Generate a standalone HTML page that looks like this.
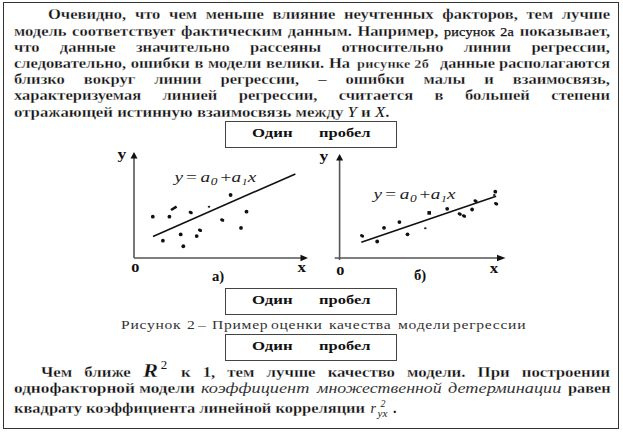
<!DOCTYPE html>
<html><head><meta charset="utf-8">
<style>
html,body{margin:0;padding:0;background:#fff;}
body{width:623px;height:432px;position:relative;overflow:hidden;font-family:"Liberation Serif",serif;color:#111;}
.frame{position:absolute;left:2.5px;top:2px;width:614.5px;height:424.5px;border:1.5px solid #333;}
.ln{position:absolute;font-weight:bold;-webkit-text-stroke:0.3px rgba(255,255,255,0.8);font-size:14px;line-height:16px;height:16px;transform-origin:0 0;}
.sm{font-weight:normal;font-size:12px;letter-spacing:0.2px;-webkit-text-stroke:0.25px #111;}
.smb{font-weight:bold;font-size:12px;letter-spacing:0.25px;}
.it{font-weight:normal;font-style:italic;-webkit-text-stroke:0;}
.box{position:absolute;left:225px;width:169.5px;height:24.5px;border:1.2px solid #444;}
.R{font-style:italic;font-size:18.5px;line-height:0;display:inline-block;transform:scaleX(1.08);transform-origin:0 0;margin-right:1px;}
.s2{font-weight:normal;font-size:11.5px;line-height:0;vertical-align:0;position:relative;top:-7.5px;left:2.5px;margin-right:4px;-webkit-text-stroke:0;}
.ital{-webkit-text-stroke:0;font-style:italic;font-size:15.5px;color:#333;display:inline-block;transform-origin:0 0;}
svg{position:absolute;left:0;top:0;}
</style></head><body>
<div class="frame"></div>
<div class="ln" style="left:48px;top:7.38px;width:476.27px;transform:scaleX(1.18);text-align:justify;text-align-last:justify;">Очевидно, что чем меньше влияние неучтенных факторов, тем лучше</div>
<div class="ln" style="left:14px;top:23.57px;width:505.08px;transform:scaleX(1.18);text-align:justify;text-align-last:justify;">модель соответствует фактическим данным. Например, <span class="sm">рисунок 2а</span> показывает,</div>
<div class="ln" style="left:14px;top:39.77px;width:505.08px;transform:scaleX(1.18);text-align:justify;text-align-last:justify;">что данные значительно рассеяны относительно линии регрессии,</div>
<div class="ln" style="left:14px;top:55.97px;width:284.75px;transform:scaleX(1.18);text-align:justify;text-align-last:justify;">следовательно, ошибки в модели велики. На</div>
<div class="ln" style="left:357px;top:55.97px;white-space:nowrap;transform:scaleX(1.18);"><span class="smb">рисунке 2б</span></div>
<div class="ln" style="left:440px;top:55.97px;white-space:nowrap;transform:scaleX(1.162);">данные располагаются</div>
<div class="ln" style="left:14px;top:72.18px;width:505.08px;transform:scaleX(1.18);text-align:justify;text-align-last:justify;">близко вокруг линии регрессии, – ошибки малы и взаимосвязь,</div>
<div class="ln" style="left:14px;top:88.38px;width:505.08px;transform:scaleX(1.18);text-align:justify;text-align-last:justify;">характеризуемая линией регрессии, считается в большей степени</div>
<div class="ln" style="left:14px;top:104.57px;white-space:nowrap;transform:scaleX(1.198);">отражающей истинную взаимосвязь между <i class="it">Y</i> и <i class="it">X</i>.</div>
<div class="box" style="top:121px"></div><div class="ln" style="left:251.6px;top:124.94px;white-space:nowrap;transform:scaleX(1.24);font-size:13.5px;-webkit-text-stroke:0;">Один</div>
<div class="ln" style="left:319px;top:124.94px;white-space:nowrap;transform:scaleX(1.22);font-size:13.5px;-webkit-text-stroke:0;">пробел</div>
<div class="box" style="top:288.3px"></div><div class="ln" style="left:251.6px;top:292.24px;white-space:nowrap;transform:scaleX(1.24);font-size:13.5px;-webkit-text-stroke:0;">Один</div>
<div class="ln" style="left:319px;top:292.24px;white-space:nowrap;transform:scaleX(1.22);font-size:13.5px;-webkit-text-stroke:0;">пробел</div>
<div class="box" style="top:334px"></div><div class="ln" style="left:251.6px;top:337.94px;white-space:nowrap;transform:scaleX(1.24);font-size:13.5px;-webkit-text-stroke:0;">Один</div>
<div class="ln" style="left:319px;top:337.94px;white-space:nowrap;transform:scaleX(1.22);font-size:13.5px;-webkit-text-stroke:0;">пробел</div>
<div class="ln" style="left:121.4px;top:316.91px;white-space:nowrap;transform:scaleX(1.2);font-weight:normal;font-size:13px;letter-spacing:0.6px;color:#333;-webkit-text-stroke:0;">Рисунок</div>
<div class="ln" style="left:187.4px;top:316.91px;white-space:nowrap;transform:scaleX(1.2);font-weight:normal;font-size:13px;letter-spacing:0.6px;color:#333;-webkit-text-stroke:0;">2</div>
<div class="ln" style="left:198px;top:316.91px;white-space:nowrap;transform:scaleX(1.2);font-weight:normal;font-size:13px;letter-spacing:0.6px;color:#333;-webkit-text-stroke:0;">–</div>
<div class="ln" style="left:212.2px;top:316.91px;white-space:nowrap;transform:scaleX(1.2);font-weight:normal;font-size:13px;letter-spacing:0.6px;color:#333;-webkit-text-stroke:0;">Пример</div>
<div class="ln" style="left:270.5px;top:316.91px;white-space:nowrap;transform:scaleX(1.2);font-weight:normal;font-size:13px;letter-spacing:0.6px;color:#333;-webkit-text-stroke:0;">оценки</div>
<div class="ln" style="left:328.8px;top:316.91px;white-space:nowrap;transform:scaleX(1.2);font-weight:normal;font-size:13px;letter-spacing:0.6px;color:#333;-webkit-text-stroke:0;">качества</div>
<div class="ln" style="left:397.7px;top:316.91px;white-space:nowrap;transform:scaleX(1.2);font-weight:normal;font-size:13px;letter-spacing:0.6px;color:#333;-webkit-text-stroke:0;">модели</div>
<div class="ln" style="left:452.5px;top:316.91px;white-space:nowrap;transform:scaleX(1.2);font-weight:normal;font-size:13px;letter-spacing:0.6px;color:#333;-webkit-text-stroke:0;">регрессии</div>
<div class="ln" style="left:41px;top:363.94px;width:508.04px;transform:scaleX(1.12);text-align:justify;text-align-last:justify;font-size:15px;">Чем ближе <span class="R">R</span><sup class="s2">2</sup> к 1, тем лучше качество модели. При построении</div>
<div class="ln" style="left:14.3px;top:380.24px;white-space:nowrap;transform:scaleX(1.15);font-size:15px;">однофакторной модели</div>
<div class="ln" style="left:201.4px;top:380.24px;white-space:nowrap;transform:scaleX(1.18);font-weight:normal;"><span class="ital">коэффициент</span></div>
<div class="ln" style="left:316.7px;top:380.24px;white-space:nowrap;transform:scaleX(1.15);font-weight:normal;"><span class="ital">множественной</span></div>
<div class="ln" style="left:448.2px;top:380.24px;white-space:nowrap;transform:scaleX(1.18);font-weight:normal;"><span class="ital">детерминации</span></div>
<div class="ln" style="left:568px;top:380.24px;white-space:nowrap;transform:scaleX(1.085);font-size:15px;">равен</div>
<div class="ln" style="left:14.3px;top:399.94px;white-space:nowrap;transform:scaleX(1.096);font-size:15px;">квадрату коэффициента линейной корреляции</div>

<svg width="623" height="432" viewBox="0 0 623 432" font-family="Liberation Serif">
<g stroke="#555" stroke-width="1.6" fill="none">
<path d="M134 258V157M134 258H301"/>
<path d="M339.6 260V159M334.7 258H498"/>
</g>
<g fill="#111">
<path d="M134 152L130.5 158.5H137.5Z"/>
<path d="M308 258L300.5 254.8V261.2Z"/>
<path d="M339.6 154L336.1 160.5H343.1Z"/>
<path d="M505.5 258L497 254.8V261.2Z"/>
</g>
<g stroke="#111" stroke-width="1.6">
<path d="M153 236.5L295.4 173.9"/>
<path d="M361.3 242.3L496.1 196.2"/>
</g>
<ellipse cx="152.8" cy="216.7" rx="1.9" ry="1.9" fill="#111"/><path d="M171.0 210.0L176.60000000000002 206.60000000000002" stroke="#111" stroke-width="2.6"/><ellipse cx="169.4" cy="216.7" rx="1.9" ry="1.9" fill="#111"/><ellipse cx="190.7" cy="212.5" rx="2.2" ry="1.6" transform="rotate(25 190.7 212.5)" fill="#111"/><ellipse cx="209" cy="206.7" rx="1.3" ry="1" fill="#222"/><ellipse cx="162.9" cy="240.7" rx="1.9" ry="1.9" fill="#111"/><ellipse cx="180.7" cy="234.4" rx="1.9" ry="1.9" fill="#111"/><ellipse cx="183.3" cy="246.25" rx="1.9" ry="1.9" fill="#111"/><ellipse cx="196.7" cy="236.1" rx="1.9" ry="1.9" fill="#111"/><ellipse cx="200" cy="230.3" rx="2.2" ry="1.6" transform="rotate(25 200 230.3)" fill="#111"/><ellipse cx="230.6" cy="195" rx="1.9" ry="1.9" fill="#111"/><ellipse cx="246.5" cy="211.7" rx="1.9" ry="1.9" fill="#111"/><ellipse cx="222.2" cy="220" rx="2.2" ry="1.6" transform="rotate(25 222.2 220)" fill="#111"/><ellipse cx="241" cy="227.9" rx="1.9" ry="1.9" fill="#111"/>
<ellipse cx="362.1" cy="235.9" rx="2.2" ry="1.6" transform="rotate(25 362.1 235.9)" fill="#111"/><ellipse cx="377.2" cy="241.5" rx="1.9" ry="1.9" fill="#111"/><ellipse cx="384" cy="227.8" rx="1.9" ry="1.9" fill="#111"/><ellipse cx="399.4" cy="222.1" rx="1.9" ry="1.9" fill="#111"/><ellipse cx="407.5" cy="234.3" rx="1.9" ry="1.9" fill="#111"/><ellipse cx="425.3" cy="228.3" rx="1.3" ry="1" fill="#222"/><rect x="427.4" y="211.1" width="3.6" height="3.6" fill="#111"/><ellipse cx="447.2" cy="208.8" rx="1.9" ry="1.9" fill="#111"/><ellipse cx="459.7" cy="214" rx="2.2" ry="1.6" transform="rotate(25 459.7 214)" fill="#111"/><ellipse cx="464" cy="216" rx="2.2" ry="1.6" transform="rotate(25 464 216)" fill="#111"/><ellipse cx="472.1" cy="209.5" rx="1.9" ry="1.9" fill="#111"/><ellipse cx="475.5" cy="201" rx="2.2" ry="1.6" transform="rotate(25 475.5 201)" fill="#111"/><ellipse cx="495.3" cy="191.7" rx="1.9" ry="1.9" fill="#111"/><ellipse cx="494.2" cy="194.9" rx="1.3" ry="1" fill="#222"/><ellipse cx="496.1" cy="203.8" rx="2.2" ry="1.6" transform="rotate(25 496.1 203.8)" fill="#111"/>
<g fill="#222"><text transform="translate(174.40 182.4) scale(1.28 1)" font-size="15" font-style="italic">y</text><text transform="translate(186.00 182.4) scale(1.28 1)" font-size="15" font-style="normal">=</text><text transform="translate(200.50 182.4) scale(1.28 1)" font-size="15" font-style="italic">a</text><text transform="translate(210.80 185.0) scale(1.28 1)" font-size="10.5" font-style="italic">0</text><text transform="translate(220.40 182.4) scale(1.28 1)" font-size="15" font-style="normal">+</text><text transform="translate(231.60 182.4) scale(1.28 1)" font-size="15" font-style="italic">a</text><text transform="translate(241.80 185.0) scale(1.28 1)" font-size="9" font-style="italic">1</text><text transform="translate(247.70 182.4) scale(1.28 1)" font-size="15" font-style="italic">x</text></g>
<g fill="#222"><text transform="translate(373.60 199.4) scale(1.28 1)" font-size="15" font-style="italic">y</text><text transform="translate(385.20 199.4) scale(1.28 1)" font-size="15" font-style="normal">=</text><text transform="translate(399.70 199.4) scale(1.28 1)" font-size="15" font-style="italic">a</text><text transform="translate(410.00 202.0) scale(1.28 1)" font-size="10.5" font-style="italic">0</text><text transform="translate(419.60 199.4) scale(1.28 1)" font-size="15" font-style="normal">+</text><text transform="translate(430.80 199.4) scale(1.28 1)" font-size="15" font-style="italic">a</text><text transform="translate(441.00 202.0) scale(1.28 1)" font-size="9" font-style="italic">1</text><text transform="translate(446.90 199.4) scale(1.28 1)" font-size="15" font-style="italic">x</text></g>
<g fill="#111">
<text transform="translate(117.6 159.3) scale(1.25 1)" font-weight="bold" font-size="14">у</text>
<text transform="translate(131.3 272) scale(1.25 1)" font-weight="bold" font-size="13">0</text>
<text transform="translate(297.6 272) scale(1.12 1)" font-weight="bold" font-size="15">x</text>
<text transform="translate(212 281.4) scale(1.05 1)" font-weight="bold" font-size="14">а)</text>
<text transform="translate(319.6 161) scale(1.25 1)" font-weight="bold" font-size="14">у</text>
<text transform="translate(336.2 274.6) scale(1.25 1)" font-weight="bold" font-size="13">0</text>
<text transform="translate(489.8 272.6) scale(1.12 1)" font-weight="bold" font-size="15">x</text>
<text transform="translate(414 279.7) scale(1.05 1)" font-weight="bold" font-size="14">б)</text>
</g>
<g font-style="italic" fill="#222">
<text x="370.5" y="412.5" font-size="14">r</text>
<text x="380.4" y="406.9" font-size="10">2</text>
<text transform="translate(377.5 417) scale(1.12 1)" font-size="10">yx</text>
</g>
<text x="393" y="412.5" font-size="14" font-weight="bold" fill="#111">.</text>
</svg>
</body></html>
